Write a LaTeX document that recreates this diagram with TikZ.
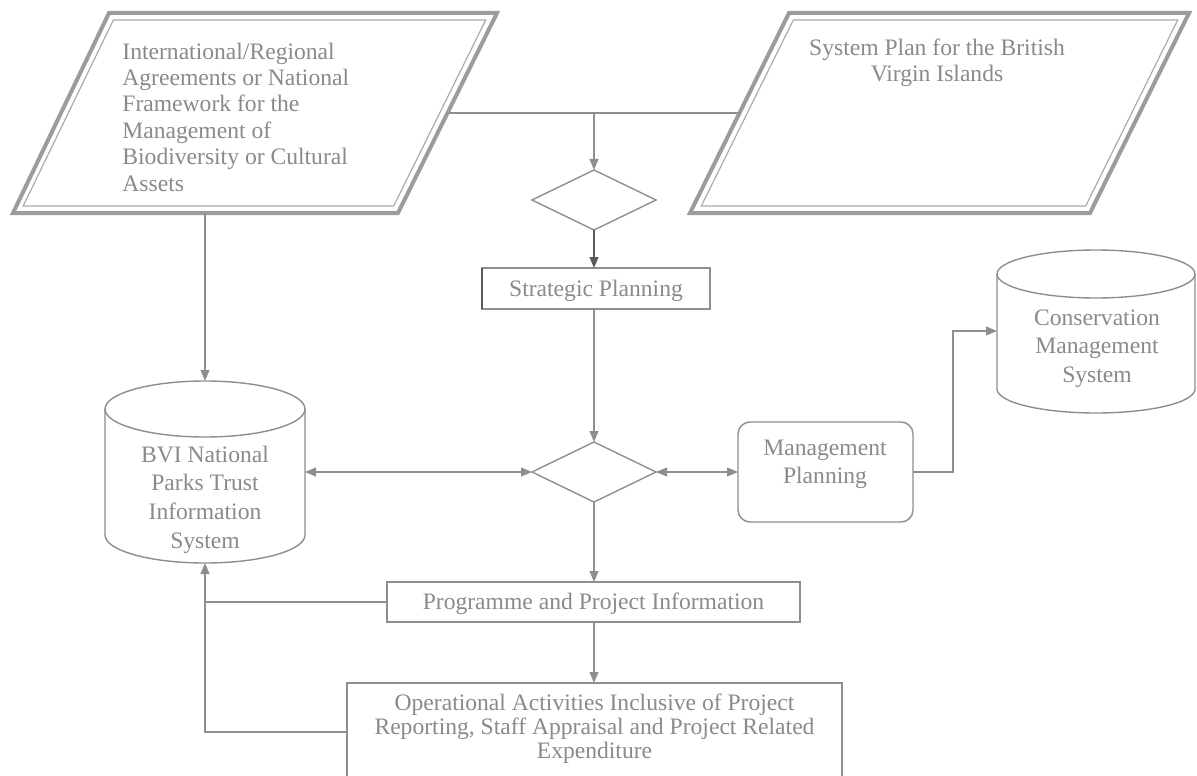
\documentclass[tikz,border=0pt]{standalone}
\usepackage{fontspec}
\setmainfont{Liberation Serif}
\usetikzlibrary{arrows.meta,shapes.geometric}
\definecolor{ln}{HTML}{8E8E8E}
\definecolor{dk}{HTML}{5A5A5A}
\definecolor{tx}{HTML}{8A8A8A}
\definecolor{pouter}{HTML}{9C9C9C}
\definecolor{pinner}{HTML}{ABABAB}
\begin{document}
\begin{tikzpicture}[x=0.5pt,y=-0.5pt,
  conn/.style={draw=ln, line width=0.7pt},
  tipa/.tip={Triangle[length=5.5pt,width=4.4pt]},
  arr/.style={conn,-tipa},
  darr/.style={conn,tipa-tipa},
  lbl/.style={text=tx, inner sep=0pt, font=\fontsize{11.8}{#1}\selectfont},
  lbl/.default={13},
  shp/.style={draw=ln, line width=0.7pt},
  anch/.style={inner sep=0pt, outer sep=0pt, rectangle},
  boxn/.style={shp, anch},
  dia/.style={diamond, shp, inner sep=0pt, outer sep=0pt, minimum width=62pt, minimum height=30pt, aspect=2},
  pout/.style={draw=pouter, line width=2pt, line join=miter},
  pin/.style={draw=pinner, line width=0.6pt}
]
\useasboundingbox (0,0) rectangle (1197,775);
\clip (0,0) rectangle (1197,775);
\fill[white] (0,0) rectangle (1197,775);

% ---- left parallelogram ----
\draw[pout] (109,13) -- (497,13) -- (398,213) -- (13,213) -- cycle;
\draw[pin] (113.4,20) -- (485.7,20) -- (393.7,206) -- (23.2,206) -- cycle;
\coordinate (lpR) at (448.5,113);
\coordinate (lpB) at (205,213);
\node[lbl=13.2, anchor=west, align=left] (lpt) at (122,117)
  {International/Regional\\Agreements or National\\Framework for the\\Management of\\Biodiversity or Cultural\\Assets};

% ---- right parallelogram ----
\draw[pout] (789,13) -- (1189,13) -- (1090,213) -- (690,213) -- cycle;
\draw[pin] (793.3,20) -- (1177.7,20) -- (1085.7,206) -- (701.3,206) -- cycle;
\coordinate (rpL) at (739.5,113);
\node[lbl=12.8, align=center] (rpt) at (937,62.5) {System Plan for the British\\Virgin Islands};

% ---- diamonds ----
\node[dia] (d1) at (594,200) {};
\node[dia] (d2) at (594,472) {};

% ---- strategic planning ----
\node[boxn, minimum width=114pt, minimum height=20.5pt] (sp) at (596,288.5) {};
\draw[draw=dk, line width=0.9pt] (sp.north west) -- (sp.south west);
\node[lbl] (spt) at (596,291) {Strategic Planning};

% ---- BVI cylinder ----
\draw[shp] (105,409) -- (105,535) arc[start angle=180, end angle=0, x radius=100, y radius=28] -- (305,409);
\draw[shp] (205,409) ellipse [x radius=100, y radius=28];
\node[anch, minimum width=100pt, minimum height=91pt] (bvi) at (205,472) {};
\node[lbl=14.3, align=center] (bvit) at (205,499.5) {BVI National\\Parks Trust\\Information\\System};

% ---- Conservation cylinder ----
\draw[shp] (997,274) -- (997,389) arc[start angle=180, end angle=0, x radius=99, y radius=24] -- (1195,274);
\draw[shp] (1096,274) ellipse [x radius=99, y radius=24];
\node[anch, minimum width=99pt, minimum height=81.5pt] (cms) at (1096,331) {};
\node[lbl=14.2, align=center] (cmst) at (1097,348.5) {Conservation\\Management\\System};

% ---- Management planning ----
\node[boxn, rounded corners=6pt, minimum width=87.5pt, minimum height=50pt] (mp) at (825.5,472) {};
\node[lbl=14, align=center] (mpt) at (825,464) {Management\\Planning};

% ---- Programme and project information ----
\node[boxn, minimum width=206.5pt, minimum height=20pt] (pp) at (593.5,602) {};
\node[lbl] (ppt) at (593.5,604) {Programme and Project Information};

% ---- Operational activities ----
\node[boxn, minimum width=247.5pt, minimum height=49pt] (op) at (594.5,732) {};
\node[lbl=11.9, align=center] (opt) at (594.5,728.5) {Operational Activities Inclusive of Project\\Reporting, Staff Appraisal and Project Related\\Expenditure};

% ---- connectors ----
\draw[conn] (lpR) -- (rpL);
\draw[arr] (d1.north |- lpR) -- (d1.north);
\draw[conn, draw=dk, line width=1pt, -tipa] (d1.south) -- (d1.south |- sp.north);
\draw[arr] (d2.north |- sp.south) -- (d2.north);
\draw[arr] (lpB) -- (bvi.north);
\draw[darr] (bvi.east) -- (d2.west);
\draw[darr] (d2.east) -- (mp.west);
\draw[arr] (mp.east) -- ++(40,0) |- (cms.west);
\draw[arr] (d2.south) -- (d2.south |- pp.north);
\draw[arr] (d2.south |- pp.south) -- (d2.south |- op.north);
\draw[conn] (pp.west) -- (pp.west -| bvi.south);
\draw[arr] (op.west) -| (bvi.south);
\end{tikzpicture}
\end{document}
